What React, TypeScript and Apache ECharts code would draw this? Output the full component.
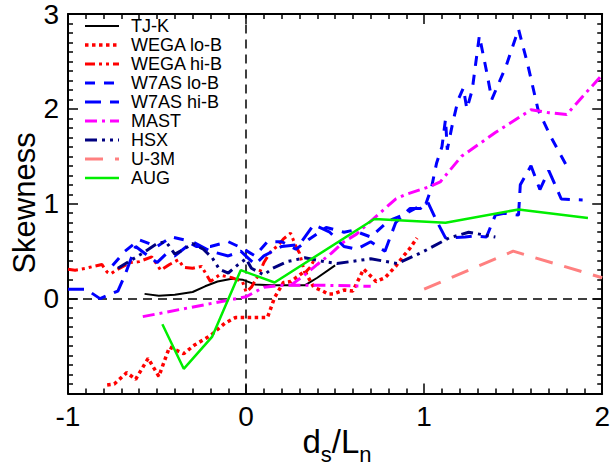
import React, { useEffect, useRef } from "react";
import * as echarts from "echarts";

const seriesNames = ["TJ-K", "WEGA lo-B", "WEGA hi-B", "W7AS lo-B", "W7AS hi-B", "MAST", "HSX", "U-3M", "AUG"];

const tjk = [[-0.57,0.05],[-0.49,0.03],[-0.4,0.04],[-0.3,0.07],[-0.23,0.13],[-0.16,0.18],[-0.08,0.21],[-0.02,0.2],[0.05,0.15],[0.14,0.14],[0.33,0.14],[0.4,0.22],[0.5,0.35]];

const wegaLo = [[-0.78,-0.91],[-0.74,-0.9],[-0.67,-0.78],[-0.62,-0.85],[-0.55,-0.63],[-0.49,-0.82],[-0.43,-0.51],[-0.35,-0.58],[-0.29,-0.49],[-0.2,-0.39],[-0.12,-0.26],[-0.06,-0.2],[0.01,-0.2],[0.12,-0.2],[0.16,0.01],[0.21,0.17],[0.25,0.18],[0.28,0.22],[0.33,0.29],[0.38,0.12],[0.43,0.08],[0.46,0.05],[0.49,0.05],[0.55,0.09],[0.6,0.08],[0.66,0.31],[0.71,0.22],[0.73,0.18],[0.78,0.22],[0.84,0.34],[0.88,0.44],[0.92,0.53],[0.96,0.64]];

const wegaHi = [[-1,0.31],[-0.96,0.3],[-0.9,0.32],[-0.81,0.36],[-0.78,0.28],[-0.76,0.26],[-0.73,0.3],[-0.65,0.38],[-0.6,0.39],[-0.53,0.44],[-0.5,0.36],[-0.48,0.3],[-0.43,0.36],[-0.38,0.41],[-0.35,0.33],[-0.3,0.32],[-0.25,0.34],[-0.2,0.18],[-0.15,0.25],[-0.08,0.22],[-0.02,0.18],[0,0.07],[0.03,0.12],[0.07,0.25],[0.1,0.38],[0.14,0.5],[0.18,0.56],[0.21,0.63],[0.25,0.69],[0.28,0.55],[0.3,0.48],[0.33,0.27],[0.36,0.33],[0.38,0.4]];

const w7asLo = [[-0.75,0.35],[-0.68,0.5],[-0.6,0.62],[-0.5,0.55],[-0.42,0.65],[-0.35,0.62],[-0.28,0.55],[-0.2,0.55],[-0.1,0.6],[-0.02,0.53],[0.05,0.45],[0.12,0.6],[0.2,0.6],[0.28,0.52],[0.35,0.62],[0.45,0.75],[0.55,0.7],[0.6,0.72],[0.7,0.65],[0.8,0.82],[0.88,0.88],[0.95,0.95],[1.01,1.0],[1.04,1.16],[1.07,1.43],[1.1,1.6],[1.12,1.89],[1.13,1.57],[1.16,1.85],[1.19,2.09],[1.22,2.22],[1.24,2.0],[1.27,2.2],[1.31,2.77],[1.35,2.4],[1.38,2.1],[1.46,2.45],[1.53,2.84],[1.58,2.48],[1.64,1.99],[1.71,1.71],[1.8,1.4]];

const w7asHi = [[-1,0.1],[-0.9,0.1],[-0.82,0],[-0.72,0.08],[-0.68,0.25],[-0.62,0.55],[-0.55,0.45],[-0.5,0.38],[-0.45,0.47],[-0.4,0.45],[-0.3,0.6],[-0.2,0.5],[-0.1,0.45],[-0.03,0.5],[0.05,0.36],[0.1,0.45],[0.2,0.55],[0.3,0.57],[0.38,0.78],[0.47,0.7],[0.55,0.55],[0.62,0.52],[0.7,0.6],[0.78,0.5],[0.84,0.8],[0.92,0.95],[0.98,0.95],[1.02,1.02],[1.07,0.82],[1.12,0.64],[1.23,0.65],[1.29,0.66],[1.35,0.65],[1.4,0.88],[1.45,0.9],[1.53,0.88],[1.54,1.2],[1.6,1.4],[1.65,1.15],[1.7,1.35],[1.77,1.05],[1.89,1.04]];

const mast = [[-0.58,-0.19],[0.0,0.02],[0.1,0.12],[0.2,0.14],[0.45,0.14],[0.7,0.13],["-","-"],[0.25,0.14],[0.33,0.25],[0.4,0.36],[0.48,0.48],[0.55,0.6],[0.62,0.68],[0.75,0.9],[0.84,1.05],[0.9,1.1],[1.03,1.18],[1.09,1.23],[1.21,1.5],[1.4,1.75],[1.6,1.99],[1.7,1.96],[1.8,1.94],[2.0,2.36]];

const hsx = [[-0.72,0.32],[-0.65,0.4],[-0.58,0.48],[-0.5,0.58],[-0.45,0.6],[-0.4,0.47],[-0.35,0.52],[-0.3,0.58],[-0.24,0.52],[-0.19,0.43],[-0.15,0.31],[-0.1,0.27],[-0.05,0.35],[0,0.42],[0.03,0.32],[0.1,0.25],[0.15,0.32],[0.23,0.39],[0.33,0.43],[0.44,0.39],[0.51,0.37],[0.7,0.42],[0.85,0.37],[1.0,0.5],[1.14,0.64],[1.25,0.7],[1.4,0.65]];

const u3m = [[1.0,0.1],[1.5,0.5],[2.0,0.22]];

const aug = [[-0.47,-0.27],[-0.35,-0.74],[-0.19,-0.4],[-0.03,0.3],[0.16,0.17],[0.72,0.84],[1.12,0.8],[1.53,0.94],[1.92,0.85]];

const xTicks = [-1, 0, 1, 2];
const yTicks = [0, 1, 2, 3];

const FONT = "Liberation Sans, Arial, sans-serif";

const styles = [
  { color: "#000000", width: 2, dash: "solid" as any },
  { color: "#ff0000", width: 3.5, dash: [3.5, 3.5] },
  { color: "#ff0000", width: 3, dash: [10, 4, 3, 4, 3, 4] },
  { color: "#0000ff", width: 3, dash: [10, 9] },
  { color: "#0000ff", width: 3, dash: [16, 9] },
  { color: "#ff00ff", width: 3, dash: [12, 5, 3, 5] },
  { color: "#000080", width: 3, dash: [12, 5, 3, 5, 3, 5] },
  { color: "#ff8080", width: 3, dash: [18, 12] },
  { color: "#00ee00", width: 2.5, dash: "solid" as any },
];

const datasets = [tjk, wegaLo, wegaHi, w7asLo, w7asHi, mast, hsx, u3m, aug];

export default function App() {
  const ref = useRef<HTMLDivElement>(null);
  useEffect(() => {
    if (!ref.current) return;
    const chart = echarts.init(ref.current, undefined, { renderer: "svg" });
    const series: any[] = datasets.map((d, i) => ({
      name: seriesNames[i],
      type: "line",
      data: d,
      showSymbol: false,
      symbol: "none",
      connectNulls: false,
      lineStyle: { color: styles[i].color, width: styles[i].width, type: styles[i].dash, cap: "butt" },
      z: 3 + i,
    }));
    series.unshift({
      name: "ref",
      type: "line",
      data: [],
      markLine: {
        silent: true,
        symbol: "none",
        label: { show: false },
        lineStyle: { color: "#000", width: 1.5, type: [9, 6] },
        data: [{ xAxis: 0 }, { yAxis: 0 }],
      },
      z: 2,
    });

    const legendGraphics: any[] = [];
    seriesNames.forEach((n, i) => {
      const y = 26 + i * 19;
      legendGraphics.push({
        type: "line",
        shape: { x1: 85, y1: y, x2: 119, y2: y },
        style: { stroke: styles[i].color, lineWidth: styles[i].width, lineDash: styles[i].dash === "solid" ? null : styles[i].dash },
        z: 50,
      });
      legendGraphics.push({
        type: "text",
        x: 131,
        y: y,
        style: { text: n, font: `18px ${FONT}`, lineHeight: 17, fill: "#000", textVerticalAlign: "middle", textAlign: "left" },
        z: 50,
      });
    });

    const axisCommon = {
      type: "value",
      axisLine: { show: true, onZero: false, lineStyle: { color: "#000", width: 2 } },
      axisTick: { show: true, inside: true, length: 10, lineStyle: { color: "#000", width: 1.5 } },
      minorTick: { show: true, splitNumber: 10, length: 5, lineStyle: { color: "#000", width: 1.5 } },
      splitLine: { show: false },
      minorSplitLine: { show: false },
    };

    chart.setOption({
      animation: false,
      grid: { left: 68, right: 6, top: 10, bottom: 72.5, containLabel: false },
      xAxis: [
        {
          ...axisCommon,
          min: -1, max: 2, interval: 1,
          position: "bottom",
          axisLabel: { show: true, fontSize: 28, fontFamily: FONT, color: "#000", margin: 9, formatter: (v: number) => (xTicks.includes(v) ? String(v) : "") },
        },
        {
          ...axisCommon,
          min: -1, max: 2, interval: 1,
          position: "top",
          axisLabel: { show: false },
        },
      ],
      yAxis: [
        {
          ...axisCommon,
          min: -1, max: 3, interval: 1,
          position: "left",
          axisLabel: { show: true, fontSize: 28, fontFamily: FONT, color: "#000", margin: 9, formatter: (v: number) => (yTicks.includes(v) ? String(v) : "") },
        },
        {
          ...axisCommon,
          min: -1, max: 3, interval: 1,
          position: "right",
          axisLabel: { show: false },
        },
      ],
      series,
      graphic: [
        ...legendGraphics,
        {
          type: "text",
          x: 24,
          y: 203,
          rotation: Math.PI / 2,
          style: { text: "Skewness", font: `31px ${FONT}`, fill: "#000", textAlign: "center", textVerticalAlign: "middle" },
        },
        {
          type: "text",
          x: 337,
          y: 441,
          style: {
            text: "{m|d}{s|s}{m|/L}{s|n}",
            textAlign: "center",
            textVerticalAlign: "middle",
            rich: {
              m: { fontSize: 33, fontFamily: FONT, fill: "#000", verticalAlign: "bottom" },
              s: { fontSize: 22, fontFamily: FONT, fill: "#000", verticalAlign: "bottom", padding: [0, 0, -8, 0] },
            },
          },
        },
      ],
    });
    return () => chart.dispose();
  }, []);
  return <div ref={ref} style={{ width: 613, height: 466, position: "absolute", left: 0, top: 0 }} />;
}
